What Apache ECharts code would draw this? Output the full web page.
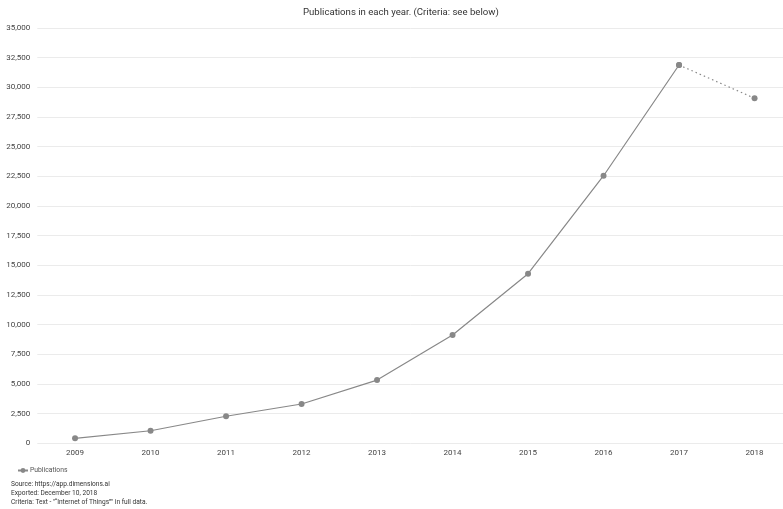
<!DOCTYPE html>
<html>
<head>
<meta charset="utf-8">
<script src="https://cdn.jsdelivr.net/npm/echarts@6/dist/echarts.min.js"></script>
<style>
  html, body { margin: 0; padding: 0; background: #fff; }
  #chart { width: 783px; height: 509px; }
</style>
</head>
<body>
<div id="chart"></div>
<script>
// Publication counts per year
const years = ['2009', '2010', '2011', '2012', '2013', '2014', '2015', '2016', '2017', '2018'];
const publications = [420, 1060, 2280, 3310, 5330, 9130, 14290, 22550, 31880, 29080];
// The final (incomplete) year is drawn as a dotted continuation
const partialFrom = 8;
const yTicks = { min: 0, max: 35000, interval: 2500 };
const footerLines = [
  'Source: https://app.dimensions.ai',
  'Exported: December 10, 2018',
  'Criteria: Text - "\u201CInternet of Things\u201D" in full data.'
];

const solidData = publications.map((v, i) => (i <= partialFrom ? v : null));
const dottedData = publications.map((v, i) => (i >= partialFrom ? v : null));

const font = 'Roboto, "Noto Sans", sans-serif';
const grey = '#888888';

const chart = echarts.init(document.getElementById('chart'), null, { renderer: 'canvas' });
chart.setOption({
  animation: false,
  backgroundColor: '#ffffff',
  textStyle: { fontFamily: font },
  title: {
    text: 'Publications in each year. (Criteria: see below)',
    left: 298,
    top: 3,
    textStyle: { fontFamily: font, fontSize: 9.6, fontWeight: 'normal', color: '#333' }
  },
  grid: {
    left: 37.3, top: 28, width: 755, height: 415.3,
    containLabel: false, outerBoundsMode: 'none'
  },
  xAxis: {
    type: 'category',
    data: years,
    boundaryGap: true,
    axisLine: { show: false },
    axisTick: { show: false },
    axisLabel: { color: '#444', fontSize: 8, fontFamily: font, margin: 6 }
  },
  yAxis: {
    type: 'value',
    min: yTicks.min,
    max: yTicks.max,
    interval: yTicks.interval,
    axisLine: { show: false },
    axisTick: { show: false },
    splitLine: { lineStyle: { color: '#ebebeb', width: 1 } },
    axisLabel: {
      color: '#444', fontSize: 8, fontFamily: font, margin: 7,
      formatter: v => v.toLocaleString('en-US')
    }
  },
  legend: {
    data: ['Publications'],
    left: 12,
    top: 462,
    itemWidth: 10,
    itemHeight: 6,
    itemGap: 4,
    textStyle: { color: '#555', fontSize: 6.8, fontFamily: font, padding: [0, 0, 0, -3] }
  },
  graphic: footerLines.map((t, i) => ({
    type: 'text',
    left: 11,
    top: 480.5 + i * 9.2,
    style: { text: t, fill: '#333', font: '6.6px ' + font }
  })),
  series: [
    {
      name: 'Publications',
      type: 'line',
      data: solidData,
      symbol: 'circle',
      symbolSize: 6,
      itemStyle: { color: grey },
      lineStyle: { color: grey, width: 1.2 }
    },
    {
      name: 'Publications (partial)',
      type: 'line',
      data: dottedData,
      symbol: 'circle',
      symbolSize: 6,
      itemStyle: { color: grey },
      lineStyle: { color: grey, width: 1.2, type: [1.5, 3] }
    }
  ]
});
</script>
</body>
</html>
